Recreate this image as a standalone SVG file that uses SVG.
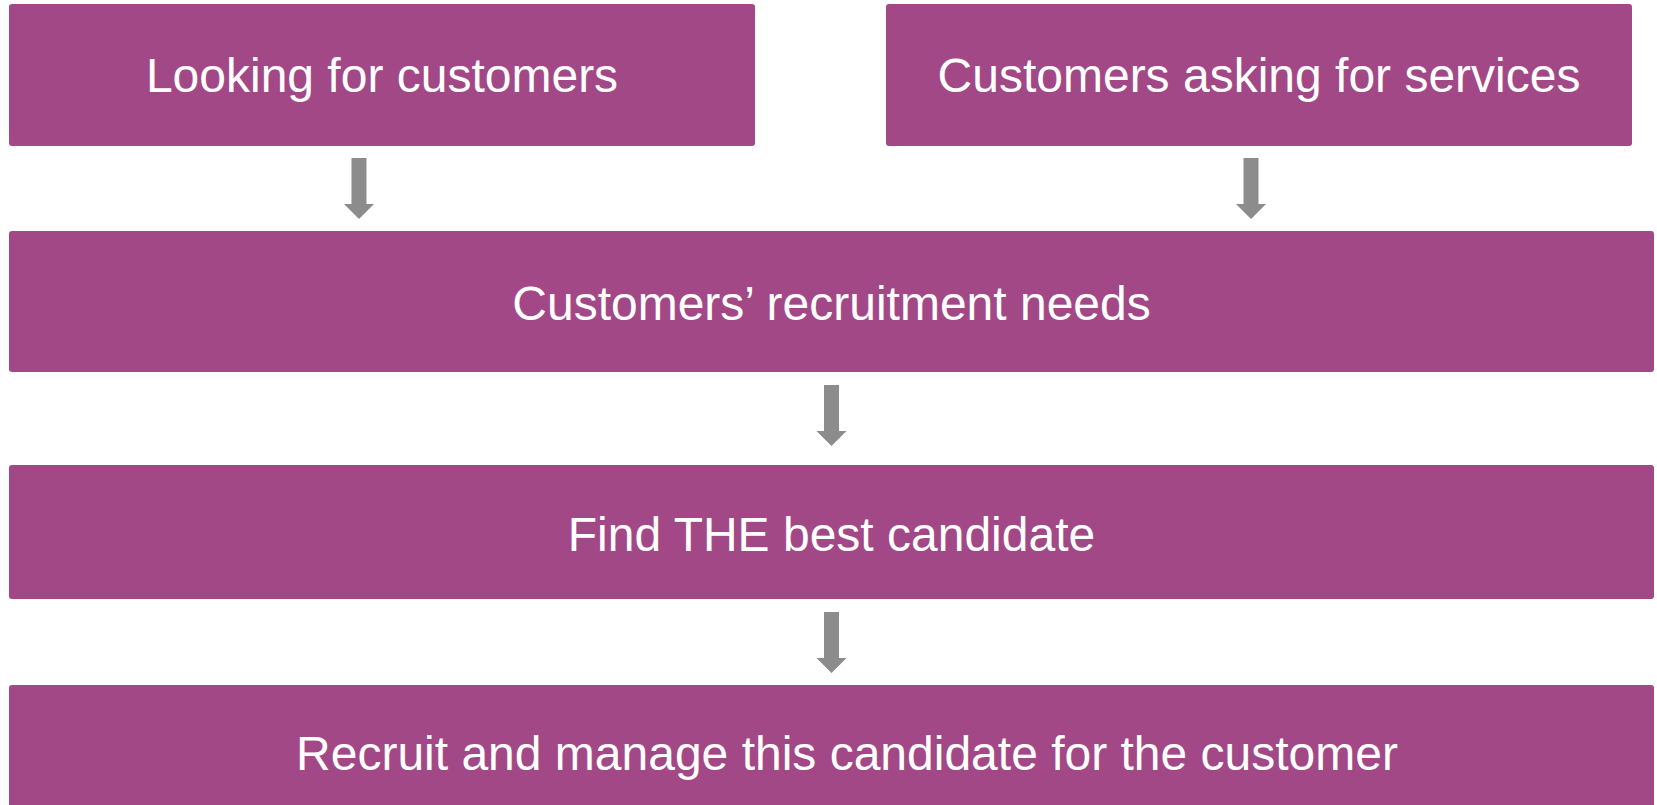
<svg xmlns="http://www.w3.org/2000/svg" width="1657" height="805" viewBox="0 0 1657 805">
<style>
.box{fill:#A34887;}
.lbl{font-family:"Liberation Sans",Arial,sans-serif;font-size:48px;fill:#FFFFFF;text-anchor:middle;}
.arr{fill:#8C8C8C;}
</style>
<defs>
<path id="darrow" d="M-7.5,0 H7.5 V46 H15 L0,61 L-15,46 H-7.5 Z"/>
</defs>
<rect width="1657" height="805" fill="#FFFFFF"/>
<g id="n1"><rect class="box" x="9" y="4" width="746" height="142" rx="3"/><text class="lbl" x="382" y="92">Looking for customers</text></g>
<g id="n2"><rect class="box" x="886" y="4" width="746" height="142" rx="3"/><text class="lbl" x="1259" y="92">Customers asking for services</text></g>
<g id="n3"><rect class="box" x="9" y="231" width="1645" height="141" rx="3"/><text class="lbl" x="831.5" y="320">Customers’ recruitment needs</text></g>
<g id="n4"><rect class="box" x="9" y="465" width="1645" height="134" rx="3"/><text class="lbl" x="831.5" y="551">Find THE best candidate</text></g>
<g id="n5"><rect class="box" x="9" y="685" width="1645" height="140" rx="3"/><text class="lbl" x="847" y="770">Recruit and manage this candidate for the customer</text></g>
<g id="connectors">
<use href="#darrow" class="arr" x="359" y="158"/>
<use href="#darrow" class="arr" x="1251" y="158"/>
<use href="#darrow" class="arr" x="831.5" y="385"/>
<use href="#darrow" class="arr" x="831.5" y="612"/>
</g>
</svg>
